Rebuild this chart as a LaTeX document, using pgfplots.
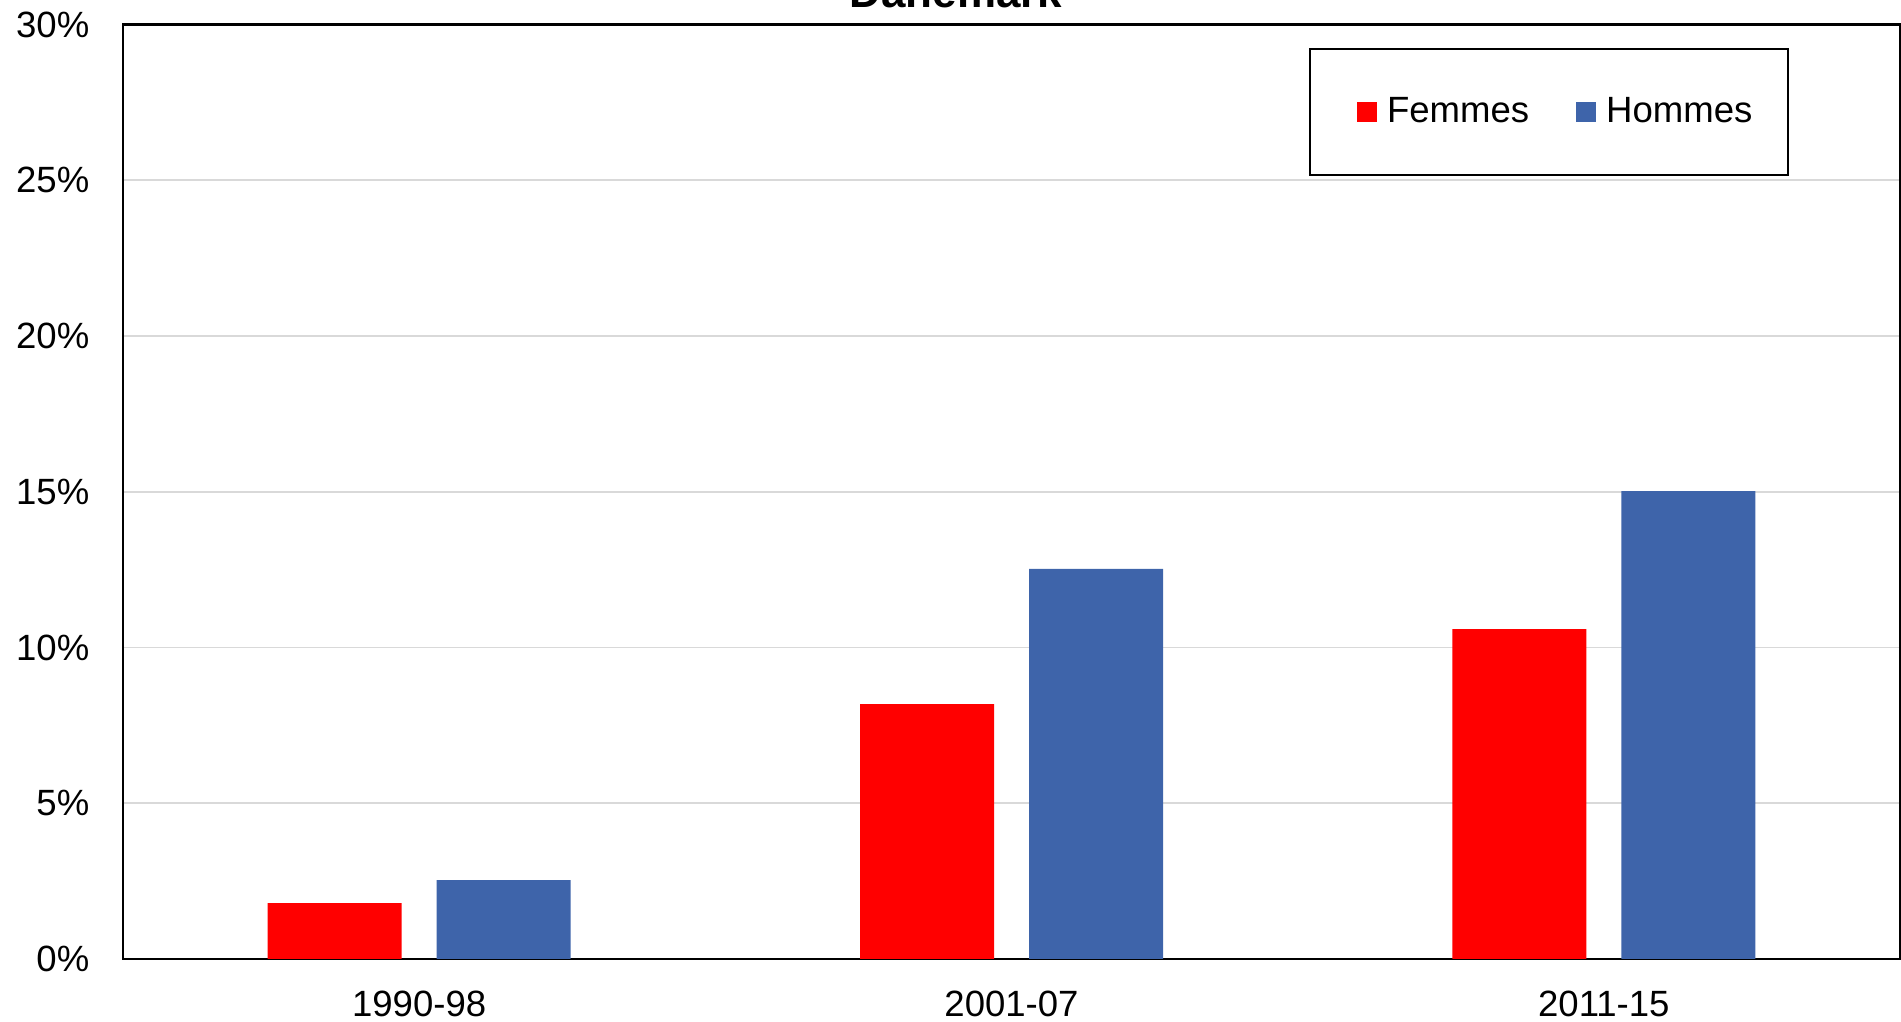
\documentclass[border=0pt]{standalone}
\usepackage{fontspec}
\setmainfont{Liberation Sans}
\usepackage{pgfplots}
\pgfplotsset{compat=1.18}
\definecolor{fred}{RGB}{255,0,0}
\definecolor{fblue}{RGB}{62,100,170}
\definecolor{gridgray}{RGB}{217,217,217}
\begin{document}
\begin{tikzpicture}
\begin{axis}[
 at={(0,0)}, anchor=south west,
 scale only axis, width=17.77cm, height=9.345cm,
 xmin=-0.5, xmax=2.5, ymin=0, ymax=30,
 xtick={0,1,2}, xticklabels={1990-98,2001-07,2011-15},
 ytick={0,5,...,30}, yticklabels={0\%,5\%,10\%,15\%,20\%,25\%,30\%},
 major tick length=0pt,
 ymajorgrids, grid style={gridgray, line width=0.5pt},
 axis line style={black, line width=0.6pt},
 font=\fontsize{10.4}{12}\selectfont,
 ticklabel style={font=\fontsize{10.4}{12}\selectfont},
 yticklabel style={inner sep=0pt, anchor=east, xshift=-3.3mm},
 xticklabel style={inner sep=0pt, anchor=north, yshift=-3.1mm},
 ybar, bar width=1.34cm,
 legend columns=2,
 legend style={at={(0.6674,0.9749)}, anchor=north west, draw=black, line width=0.6pt,
   inner xsep=3.6mm, inner ysep=4.8mm,
   nodes={inner sep=0pt, font=\fontsize{10.4}{12}\selectfont},
   /tikz/every odd column/.style={column sep=1mm},
   /tikz/every even column/.style={column sep=3.6mm}},
 legend image code/.code={\path (0mm,0mm); \fill[#1, draw=none] (1.1mm,-1mm) rectangle (3.1mm,1mm);},
]
\addplot[fill=fred, draw=none, bar shift=-0.845cm] coordinates {(0,1.79) (1,8.18) (2,10.59)};
\addplot[fill=fblue, draw=none, bar shift=0.845cm] coordinates {(0,2.53) (1,12.52) (2,15.02)};
\legend{Femmes,Hommes}
\end{axis}
\node[anchor=base, font=\bfseries\fontsize{12.5}{15}\selectfont] at (8.33,9.517) {Danemark};
\pgfresetboundingbox
\useasboundingbox (-1.23,-0.63) rectangle (17.78,9.59);
\end{tikzpicture}
\end{document}
